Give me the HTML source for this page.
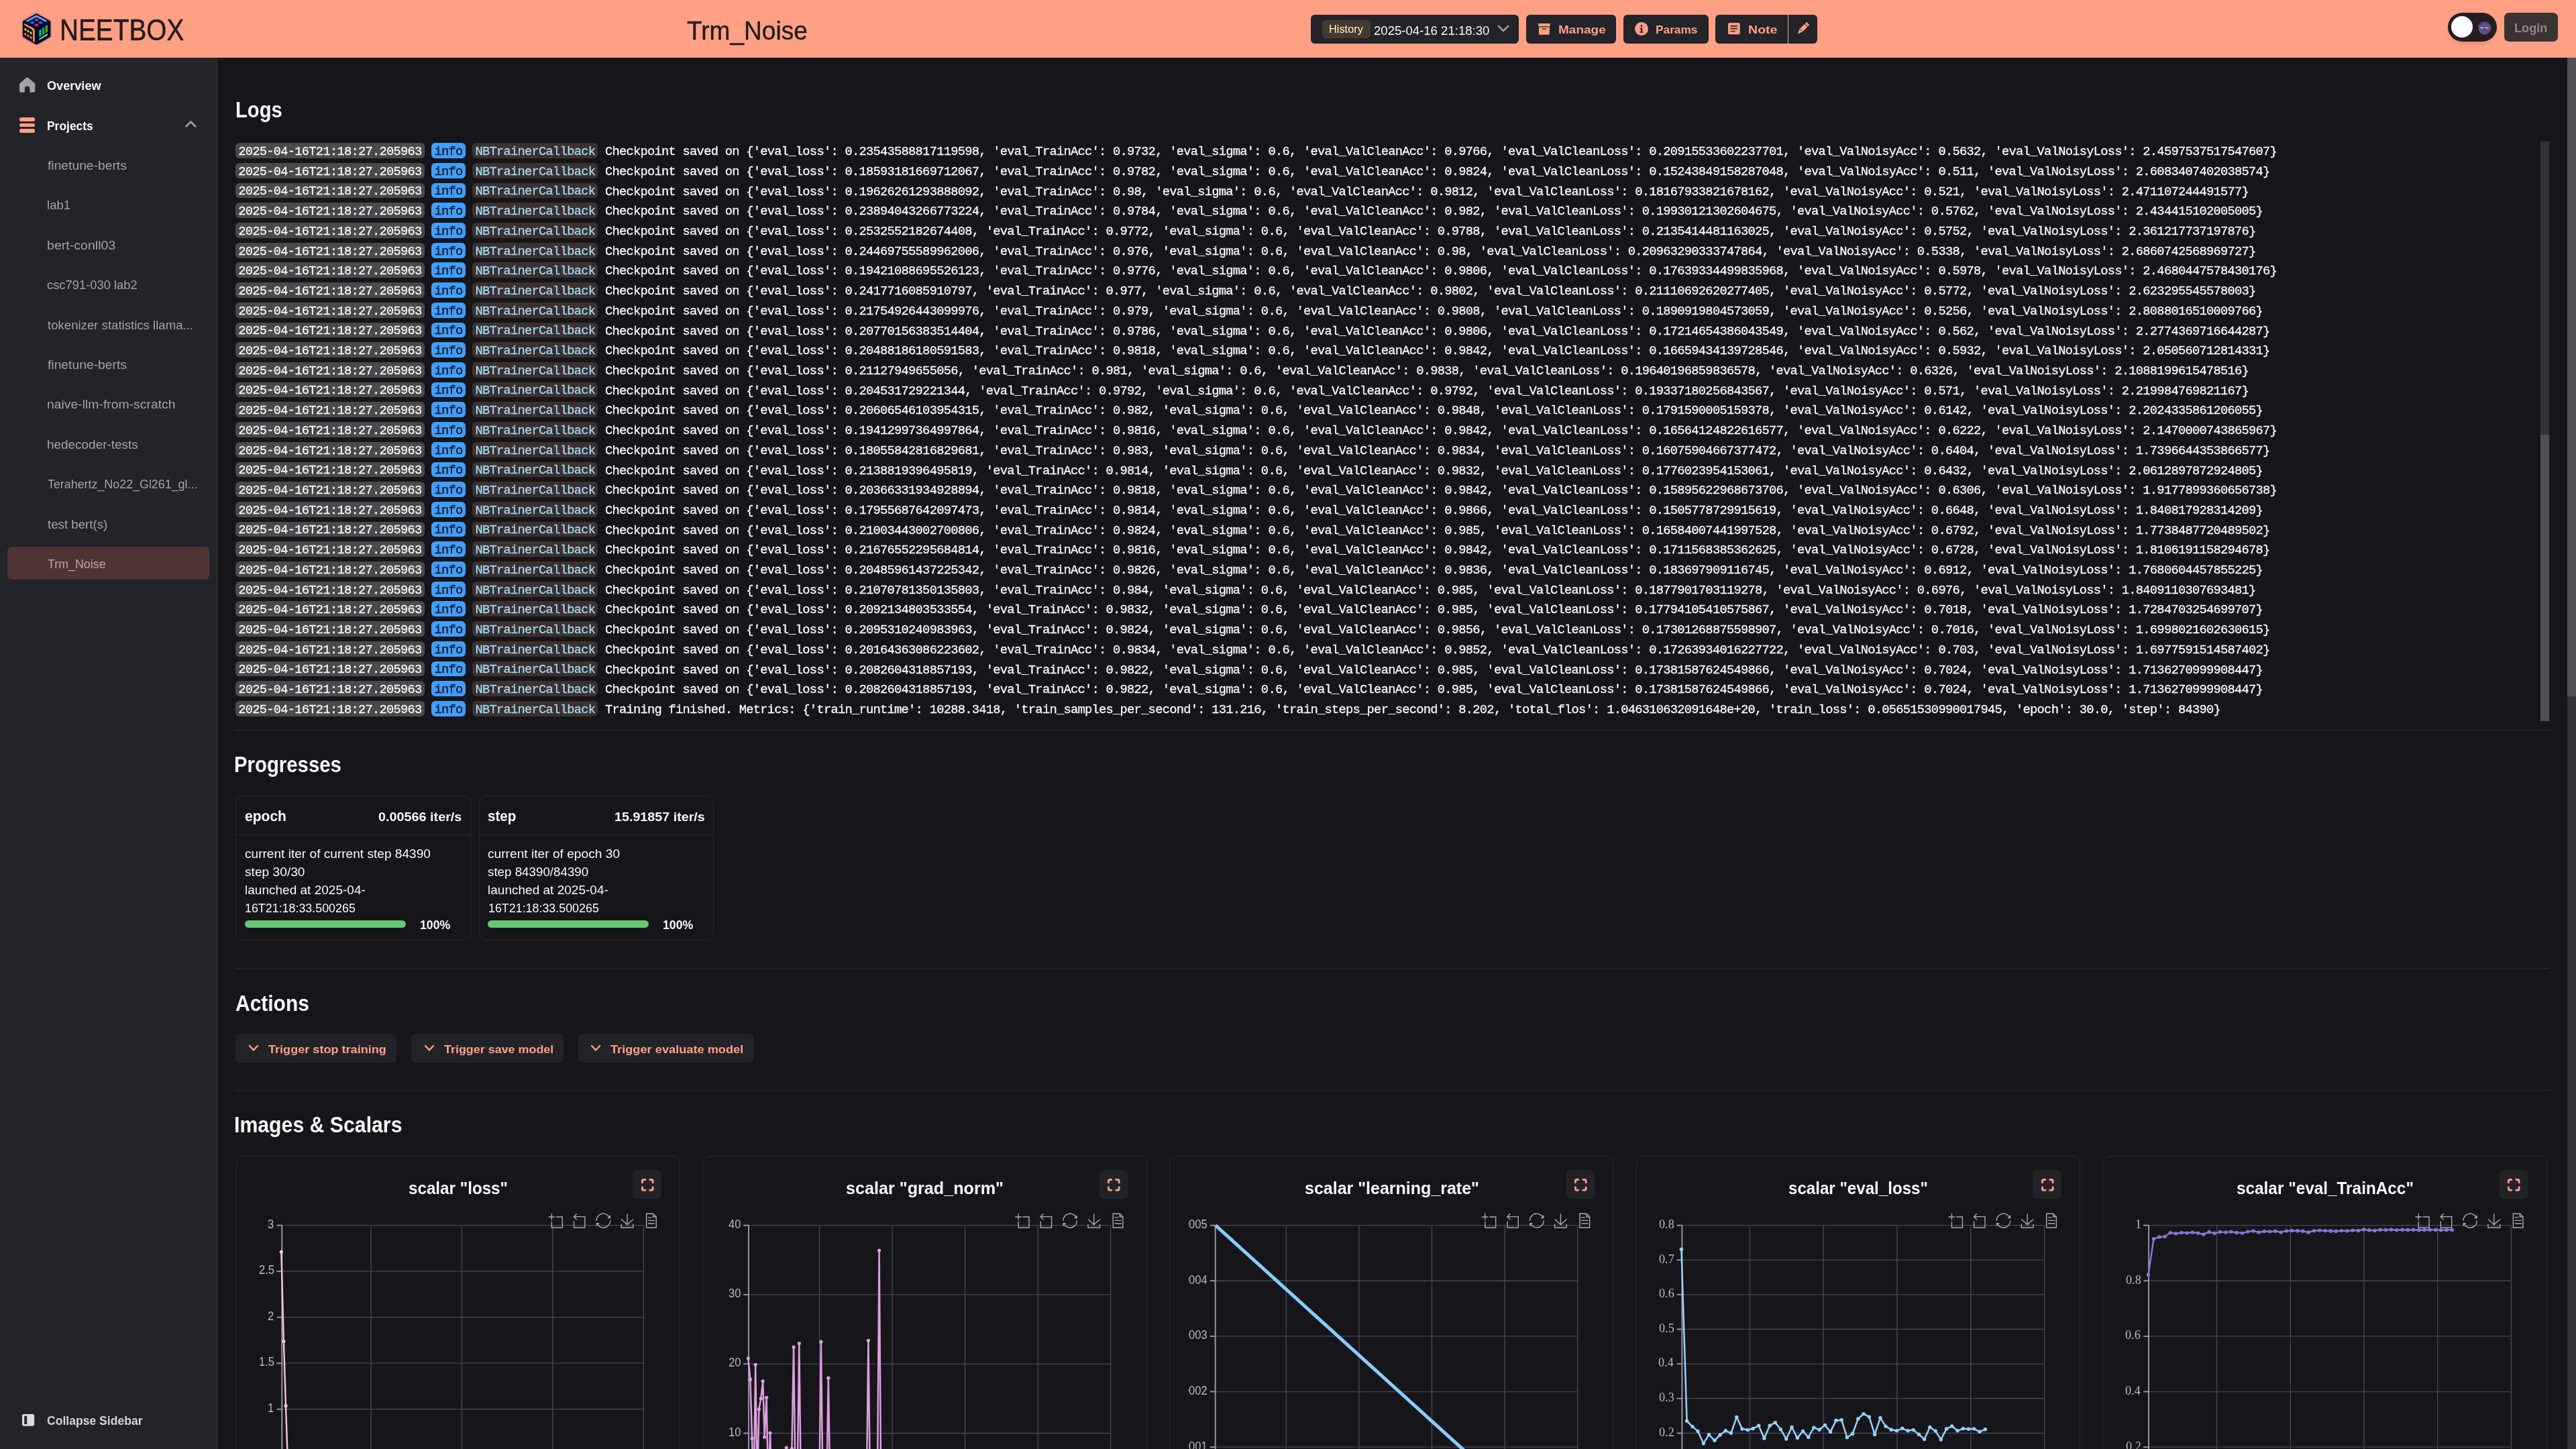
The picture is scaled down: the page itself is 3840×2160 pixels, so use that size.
<!DOCTYPE html>
<html><head><meta charset="utf-8"><title>NEETBOX</title>
<style>
html,body{margin:0;padding:0;background:#16161a;}
body{width:3840px;height:2160px;overflow:hidden;position:relative;font-family:"Liberation Sans",sans-serif;}
.a{position:absolute;}
.t{white-space:pre;transform-origin:0 50%;transform:scaleX(1.00001);}
svg{position:absolute;overflow:visible;}
.lg{position:absolute;left:351px;white-space:pre;font-family:"Liberation Mono",monospace;color:#f9f9f9;}
.lg span{border-radius:6px;}
</style></head><body>
<div class="a" style="left:0.00px;top:0.00px;width:3840.00px;height:86.00px;background:#ffa085;"></div>
<svg style="left:33.50px;top:19.70px;filter:drop-shadow(0 0 1.5px rgba(60,15,5,.75))" width="41.30" height="46.60" viewBox="0 0 41.3 46.6">
<polygon points="20.4,1.6 39.9,12.4 39.9,34.1 20.4,45.1 1.3,34.1 1.3,12.4" fill="#020a33" stroke="#020a33" stroke-width="2.6" stroke-linejoin="round"/>
<path d="M4.3,11 L20.4,2.2 L36.7,11 L33.9,12.7 L20.4,5.5 L7,12.7Z" fill="#58a4f2"/>
<polygon points="20.5,7.4 24.5,9.8 20.5,12.2 16.5,9.8" fill="#f5146c"/>
<polygon points="20.5,15.0 24.5,17.4 20.5,19.8 16.5,17.4" fill="#f5146c"/>
<polygon points="14.4,11.3 18.4,13.7 14.4,16.1 10.4,13.7" fill="#0a6ff5"/>
<polygon points="26.5,11.3 30.5,13.7 26.5,16.1 22.5,13.7" fill="#0a6ff5"/>
<path d="M1.6,15.6 L2.6,17.4 L13.3,23.7 Q15.1,24.8 15.1,27.2 L15.1,41.4 L17.8,43 L17.8,26.2 Q17.8,23.2 15.4,21.8 L2.6,14.9Z" fill="#ff9c3b"/>
<g fill="#ffc20e"><ellipse cx="3.9" cy="23.9" rx="1.5" ry="2.1" transform="rotate(-30 3.9 23.9)"/><ellipse cx="8" cy="26.5" rx="1.5" ry="2.1" transform="rotate(-30 8 26.5)"/><ellipse cx="12.1" cy="29.1" rx="1.5" ry="2.1" transform="rotate(-30 12.1 29.1)"/></g>
<g fill="#ff6a38"><ellipse cx="3.9" cy="30.9" rx="1.5" ry="2.1" transform="rotate(-30 3.9 30.9)"/><ellipse cx="8" cy="33.5" rx="1.5" ry="2.1" transform="rotate(-30 8 33.5)"/><ellipse cx="12.1" cy="36.1" rx="1.5" ry="2.1" transform="rotate(-30 12.1 36.1)"/></g>
<polygon points="24.4,25.2 27.4,23.5 27.4,33.4 24.4,35.1" fill="#10c97f"/>
<polygon points="29,22.2 32,20.4 32,30.4 29,32.2" fill="#2db34c"/>
<polygon points="33.6,19 37,17 37,27.6 33.6,29.6" fill="#4ab30a"/>
<polygon points="24.4,37.6 37,29.8 37,32.4 24.4,40.1" fill="#62d68b"/>
</svg>
<div class="a t" style="left:88.82px;top:20.00px;font-size:44.30px;line-height:49px;color:#231c1c;transform-origin:0 50%;transform:scaleX(0.8753);-webkit-text-stroke:0.55px #231c1c;">NEETBOX</div>
<div class="a t" style="left:1024.17px;top:24.00px;font-size:38.70px;line-height:43px;color:#231c1c;transform-origin:0 50%;transform:scaleX(0.9578);-webkit-text-stroke:0.4px #231c1c;">Trm_Noise</div>
<div class="a" style="left:1954.00px;top:22.00px;width:310.00px;height:43.00px;background:#232429;border-radius:6px;"></div>
<div class="a" style="left:1971.00px;top:30.00px;width:72.00px;height:27.00px;background:#453a2d;border-radius:5px;"></div>
<div class="a t" style="left:1981.06px;top:35.00px;font-size:15.90px;line-height:17px;color:#fdf3cf;transform-origin:0 50%;transform:scaleX(1.0283);">History</div>
<div class="a t" style="left:2047.77px;top:35.00px;font-size:18.40px;line-height:21px;color:#f9f9f9;transform-origin:0 50%;transform:scaleX(1.0093);">2025-04-16 21:18:30</div>
<svg style="left:2232.00px;top:37.00px;" width="18.00" height="12.00" viewBox="0 0 18 12"><path d="M2,2 L9,9 L16,2" fill="none" stroke="#9b9ca0" stroke-width="2.6" stroke-linecap="round" stroke-linejoin="round"/></svg>
<div class="a" style="left:2275.00px;top:22.00px;width:134.00px;height:43.00px;background:#232429;border-radius:6px;"></div>
<svg style="left:2292.60px;top:34.50px;" width="17.80" height="16.80" viewBox="0 0 17.8 16.8"><rect x="0" y="0" width="17.8" height="4.3" rx="0.9" fill="#ffa085"/><path d="M1,5.4 H16.8 V15.3 Q16.8,16.8 15.3,16.8 H2.5 Q1,16.8 1,15.3Z M6,7.6 V9 H11.8 V7.6Z" fill="#ffa085" fill-rule="evenodd"/></svg>
<div class="a t" style="left:2323.03px;top:35.00px;font-size:17.00px;line-height:19px;color:#ffa085;font-weight:700;transform-origin:0 50%;transform:scaleX(1.1189);">Manage</div>
<div class="a" style="left:2420.00px;top:22.00px;width:127.00px;height:43.00px;background:#232429;border-radius:6px;"></div>
<svg style="left:2436.60px;top:33.00px;" width="20.00" height="20.00" viewBox="0 0 20 20"><circle cx="10" cy="10" r="10" fill="#ffa085"/><circle cx="10" cy="5.4" r="1.5" fill="#232429"/><path d="M7.6,8.6 H11.3 V14.2 H12.8 V15.8 H7.4 V14.2 H8.9 V10.2 H7.6Z" fill="#232429"/></svg>
<div class="a t" style="left:2468.44px;top:35.00px;font-size:17.00px;line-height:19px;color:#ffa085;font-weight:700;transform-origin:0 50%;transform:scaleX(1.0168);">Params</div>
<div class="a" style="left:2557.2px;top:22px;width:107.6px;height:43px;background:#232429;border-radius:6px 0 0 6px"></div>
<div class="a" style="left:2666.1px;top:22px;width:42.7px;height:43px;background:#232429;border-radius:0 6px 6px 0"></div>
<svg style="left:2575.50px;top:33.90px;" width="17.70" height="17.30" viewBox="0 0 17.7 17.3"><rect width="17.7" height="17.3" rx="2.6" fill="#ffa085"/><g stroke="#232429" stroke-width="1.7" stroke-linecap="round"><path d="M4.2,4.9H13.4M4.2,8.7H13.4M4.2,12.5H9.8"/></g></svg>
<div class="a t" style="left:2605.69px;top:35.00px;font-size:17.00px;line-height:19px;color:#ffa085;font-weight:700;transform-origin:0 50%;transform:scaleX(1.1509);">Note</div>
<svg style="left:2678.40px;top:32.80px;" width="19.00" height="19.40" viewBox="0 0 24 24"><g transform="rotate(45 12 12)" fill="#ffa085"><rect x="8.2" y="-1.8" width="7.6" height="4.2" rx="1.2"/><rect x="8.2" y="3.6" width="7.6" height="12.4"/><path d="M8.2,17 H15.8 L12.6,24.6 Q12,25.6 11.4,24.6Z"/></g></svg>
<div class="a" style="left:3649px;top:19px;width:73px;height:43px;border-radius:22px;background:#231e1f;box-shadow:-1px 3px 5px rgba(120,50,30,.16)"></div>
<div class="a" style="left:3653.80px;top:23.90px;width:32.60px;height:32.60px;background:#ffffff;border-radius:17px;"></div>
<svg style="left:3693.80px;top:32.00px;" width="19.40" height="19.40" viewBox="0 0 20 20"><circle cx="10" cy="10" r="9.8" fill="#6a4e94"/>
<circle cx="9.5" cy="2.5" r="1.3" fill="#573c7e"/><circle cx="2.2" cy="11" r="1.6" fill="#573c7e"/><circle cx="6.1" cy="15.4" r="0.9" fill="#573c7e"/><circle cx="14.6" cy="16.4" r="1.6" fill="#573c7e"/>
<path d="M3.3,6.3 Q3.9,3.2 6.8,3.3" fill="none" stroke="#35244f" stroke-width="0.85"/><path d="M13.5,3.3 Q16.2,3.4 16.7,6" fill="none" stroke="#35244f" stroke-width="0.85"/>
<path d="M3.2,8.3 H8.9 Q8.2,10.9 6,10.9 Q3.9,10.9 3.2,8.3Z" fill="#cfcac6"/><path d="M10.6,8.3 H16.7 Q15.8,10.9 13.6,10.9 Q11.4,10.9 10.6,8.3Z" fill="#cfcac6"/>
<path d="M6.3,8.3 H8.3 Q8.2,9.4 7.3,9.4 Q6.4,9.4 6.3,8.3Z" fill="#2a1a44"/><path d="M13.6,8.3 H15.6 Q15.5,9.4 14.6,9.4 Q13.7,9.4 13.6,8.3Z" fill="#2a1a44"/>
<path d="M3,8.2 H9.1 M10.4,8.2 H16.9" stroke="#5a4084" stroke-width="0.5"/>
<path d="M6.8,12.7 Q9.7,15.6 12.7,12.7" fill="none" stroke="#3f2b61" stroke-width="0.85"/></svg>
<div class="a" style="left:3733.00px;top:19.00px;width:80.30px;height:43.00px;background:#3b3232;border-radius:7px;"></div>
<div class="a t" style="left:3748.28px;top:32.00px;font-size:17.80px;line-height:20px;color:#8f8a8a;font-weight:700;transform-origin:0 50%;transform:scaleX(1.0207);">Login</div>
<div class="a" style="left:0.00px;top:86.00px;width:323.50px;height:2074.00px;background:#232429;"></div>
<div class="a" style="left:323.40px;top:86.00px;width:1.10px;height:2074.00px;background:#35363b;"></div>
<svg style="left:28.80px;top:115.30px;" width="23.30" height="22.80" viewBox="0 0 23.3 22.8"><path d="M11.6,0.2 Q12.4,0.2 13.2,0.9 L22.5,8.9 Q23.3,9.7 23.3,10.8 V20.6 Q23.3,22.8 21.1,22.8 H16.3 Q15.4,22.8 15.4,21.9 V17.2 Q15.4,13.6 11.65,13.6 Q7.9,13.6 7.9,17.2 V21.9 Q7.9,22.8 7,22.8 H2.2 Q0,22.8 0,20.6 V10.8 Q0,9.7 0.8,8.9 L10,0.9 Q10.8,0.2 11.6,0.2Z" fill="#a2a2a4"/></svg>
<div class="a t" style="left:69.86px;top:117.00px;font-size:18.40px;line-height:21px;color:#f9f9f9;font-weight:700;transform-origin:0 50%;transform:scaleX(0.9850);">Overview</div>
<div class="a" style="left:29.00px;top:175.30px;width:22.90px;height:5.70px;background:#ffa085;border-radius:2.85px;"></div>
<div class="a" style="left:29.00px;top:183.80px;width:22.90px;height:5.70px;background:#ffa085;border-radius:2.85px;"></div>
<div class="a" style="left:29.00px;top:192.30px;width:22.90px;height:5.70px;background:#ffa085;border-radius:2.85px;"></div>
<div class="a t" style="left:69.83px;top:177.00px;font-size:18.40px;line-height:21px;color:#f9f9f9;font-weight:700;transform-origin:0 50%;transform:scaleX(0.9472);">Projects</div>
<svg style="left:275.20px;top:178.40px;" width="19.00" height="13.00" viewBox="0 0 19 13"><path d="M2.6,10.3 L9.4,3.5 L16.2,10.3" fill="none" stroke="#9d9ea2" stroke-width="2.7" stroke-linecap="round" stroke-linejoin="round"/></svg>
<div class="a" style="left:11.00px;top:815.00px;width:301.20px;height:49.10px;background:#4f3433;border-radius:6.5px;"></div>
<div class="a t" style="left:70.93px;top:236.00px;font-size:18.60px;line-height:21px;color:#a3a4a7;transform-origin:0 50%;transform:scaleX(1.0363);">finetune-berts</div>
<div class="a t" style="left:69.94px;top:295.00px;font-size:18.60px;line-height:21px;color:#a3a4a7;">lab1</div>
<div class="a t" style="left:69.94px;top:355.00px;font-size:18.60px;line-height:21px;color:#a3a4a7;transform-origin:0 50%;transform:scaleX(1.0528);">bert-conll03</div>
<div class="a t" style="left:70.42px;top:414.00px;font-size:18.60px;line-height:21px;color:#a3a4a7;transform-origin:0 50%;transform:scaleX(0.9868);">csc791-030 lab2</div>
<div class="a t" style="left:70.92px;top:474.00px;font-size:18.60px;line-height:21px;color:#a3a4a7;">tokenizer statistics llama...</div>
<div class="a t" style="left:70.93px;top:533.00px;font-size:18.60px;line-height:21px;color:#a3a4a7;transform-origin:0 50%;transform:scaleX(1.0372);">finetune-berts</div>
<div class="a t" style="left:69.91px;top:592.00px;font-size:18.60px;line-height:21px;color:#a3a4a7;transform-origin:0 50%;transform:scaleX(1.0412);">naive-llm-from-scratch</div>
<div class="a t" style="left:69.89px;top:652.00px;font-size:18.60px;line-height:21px;color:#a3a4a7;transform-origin:0 50%;transform:scaleX(1.0181);">hedecoder-tests</div>
<div class="a t" style="left:70.80px;top:711.00px;font-size:18.60px;line-height:21px;color:#a3a4a7;transform-origin:0 50%;transform:scaleX(0.9604);">Terahertz_No22_Gl261_gl...</div>
<div class="a t" style="left:70.92px;top:771.00px;font-size:18.60px;line-height:21px;color:#a3a4a7;transform-origin:0 50%;transform:scaleX(1.0051);">test bert(s)</div>
<div class="a t" style="left:70.80px;top:830.00px;font-size:18.60px;line-height:21px;color:#b4aaaa;transform-origin:0 50%;transform:scaleX(0.9594);">Trm_Noise</div>
<svg style="left:33.40px;top:2107.80px;" width="18.20" height="17.70" viewBox="0 0 18.2 17.7"><path d="M2.4,0 H15.8 Q18.2,0 18.2,2.4 V15.3 Q18.2,17.7 15.8,17.7 H2.4 Q0,17.7 0,15.3 V2.4 Q0,0 2.4,0Z M3.2,2.7 V15 H7.2 V2.7Z" fill="#dcdcdc" fill-rule="evenodd"/></svg>
<div class="a t" style="left:70.08px;top:2107.00px;font-size:18.40px;line-height:21px;color:#d6d6d7;font-weight:700;transform-origin:0 50%;transform:scaleX(0.9550);">Collapse Sidebar</div>
<div class="a" style="left:3827.00px;top:86.00px;width:13.00px;height:2074.00px;background:#323338;"></div>
<div class="a" style="left:3827.00px;top:86.00px;width:13.00px;height:952.00px;background:#4e5058;"></div>
<div class="a t" style="left:350.54px;top:145.00px;font-size:33.00px;line-height:37px;color:#f9f9f9;font-weight:700;transform-origin:0 50%;transform:scaleX(0.8862);">Logs</div>
<style>.lg{font-size:18.8px;letter-spacing:-0.755px;line-height:14px;-webkit-text-stroke:0.3px;transform:scaleX(1.00001);transform-origin:0 0;}.lg span{display:inline-block;box-sizing:border-box;height:22.8px;line-height:18.8px;padding:3.80px 4.2px 0 4.2px;border-radius:6px;}.p1{background:#4a4a4c}.p2{background:#409eff;color:#17171b}.p3{background:#3d302f;color:#9fd8f6}</style>
<div class="lg" style="top:213.20px"><span class="p1">2025-04-16T21:18:27.205963</span> <span class="p2">info</span> <span class="p3">NBTrainerCallback</span> Checkpoint saved on {&#x27;eval_loss&#x27;: 0.23543588817119598, &#x27;eval_TrainAcc&#x27;: 0.9732, &#x27;eval_sigma&#x27;: 0.6, &#x27;eval_ValCleanAcc&#x27;: 0.9766, &#x27;eval_ValCleanLoss&#x27;: 0.20915533602237701, &#x27;eval_ValNoisyAcc&#x27;: 0.5632, &#x27;eval_ValNoisyLoss&#x27;: 2.4597537517547607}</div>
<div class="lg" style="top:242.91px"><span class="p1">2025-04-16T21:18:27.205963</span> <span class="p2">info</span> <span class="p3">NBTrainerCallback</span> Checkpoint saved on {&#x27;eval_loss&#x27;: 0.18593181669712067, &#x27;eval_TrainAcc&#x27;: 0.9782, &#x27;eval_sigma&#x27;: 0.6, &#x27;eval_ValCleanAcc&#x27;: 0.9824, &#x27;eval_ValCleanLoss&#x27;: 0.15243849158287048, &#x27;eval_ValNoisyAcc&#x27;: 0.511, &#x27;eval_ValNoisyLoss&#x27;: 2.6083407402038574}</div>
<div class="lg" style="top:272.61px"><span class="p1">2025-04-16T21:18:27.205963</span> <span class="p2">info</span> <span class="p3">NBTrainerCallback</span> Checkpoint saved on {&#x27;eval_loss&#x27;: 0.19626261293888092, &#x27;eval_TrainAcc&#x27;: 0.98, &#x27;eval_sigma&#x27;: 0.6, &#x27;eval_ValCleanAcc&#x27;: 0.9812, &#x27;eval_ValCleanLoss&#x27;: 0.18167933821678162, &#x27;eval_ValNoisyAcc&#x27;: 0.521, &#x27;eval_ValNoisyLoss&#x27;: 2.471107244491577}</div>
<div class="lg" style="top:302.32px"><span class="p1">2025-04-16T21:18:27.205963</span> <span class="p2">info</span> <span class="p3">NBTrainerCallback</span> Checkpoint saved on {&#x27;eval_loss&#x27;: 0.23894043266773224, &#x27;eval_TrainAcc&#x27;: 0.9784, &#x27;eval_sigma&#x27;: 0.6, &#x27;eval_ValCleanAcc&#x27;: 0.982, &#x27;eval_ValCleanLoss&#x27;: 0.19930121302604675, &#x27;eval_ValNoisyAcc&#x27;: 0.5762, &#x27;eval_ValNoisyLoss&#x27;: 2.434415102005005}</div>
<div class="lg" style="top:332.03px"><span class="p1">2025-04-16T21:18:27.205963</span> <span class="p2">info</span> <span class="p3">NBTrainerCallback</span> Checkpoint saved on {&#x27;eval_loss&#x27;: 0.2532552182674408, &#x27;eval_TrainAcc&#x27;: 0.9772, &#x27;eval_sigma&#x27;: 0.6, &#x27;eval_ValCleanAcc&#x27;: 0.9788, &#x27;eval_ValCleanLoss&#x27;: 0.2135414481163025, &#x27;eval_ValNoisyAcc&#x27;: 0.5752, &#x27;eval_ValNoisyLoss&#x27;: 2.361217737197876}</div>
<div class="lg" style="top:361.74px"><span class="p1">2025-04-16T21:18:27.205963</span> <span class="p2">info</span> <span class="p3">NBTrainerCallback</span> Checkpoint saved on {&#x27;eval_loss&#x27;: 0.24469755589962006, &#x27;eval_TrainAcc&#x27;: 0.976, &#x27;eval_sigma&#x27;: 0.6, &#x27;eval_ValCleanAcc&#x27;: 0.98, &#x27;eval_ValCleanLoss&#x27;: 0.20963290333747864, &#x27;eval_ValNoisyAcc&#x27;: 0.5338, &#x27;eval_ValNoisyLoss&#x27;: 2.6860742568969727}</div>
<div class="lg" style="top:391.44px"><span class="p1">2025-04-16T21:18:27.205963</span> <span class="p2">info</span> <span class="p3">NBTrainerCallback</span> Checkpoint saved on {&#x27;eval_loss&#x27;: 0.19421088695526123, &#x27;eval_TrainAcc&#x27;: 0.9776, &#x27;eval_sigma&#x27;: 0.6, &#x27;eval_ValCleanAcc&#x27;: 0.9806, &#x27;eval_ValCleanLoss&#x27;: 0.17639334499835968, &#x27;eval_ValNoisyAcc&#x27;: 0.5978, &#x27;eval_ValNoisyLoss&#x27;: 2.4680447578430176}</div>
<div class="lg" style="top:421.15px"><span class="p1">2025-04-16T21:18:27.205963</span> <span class="p2">info</span> <span class="p3">NBTrainerCallback</span> Checkpoint saved on {&#x27;eval_loss&#x27;: 0.2417716085910797, &#x27;eval_TrainAcc&#x27;: 0.977, &#x27;eval_sigma&#x27;: 0.6, &#x27;eval_ValCleanAcc&#x27;: 0.9802, &#x27;eval_ValCleanLoss&#x27;: 0.21110692620277405, &#x27;eval_ValNoisyAcc&#x27;: 0.5772, &#x27;eval_ValNoisyLoss&#x27;: 2.623295545578003}</div>
<div class="lg" style="top:450.86px"><span class="p1">2025-04-16T21:18:27.205963</span> <span class="p2">info</span> <span class="p3">NBTrainerCallback</span> Checkpoint saved on {&#x27;eval_loss&#x27;: 0.21754926443099976, &#x27;eval_TrainAcc&#x27;: 0.979, &#x27;eval_sigma&#x27;: 0.6, &#x27;eval_ValCleanAcc&#x27;: 0.9808, &#x27;eval_ValCleanLoss&#x27;: 0.1890919804573059, &#x27;eval_ValNoisyAcc&#x27;: 0.5256, &#x27;eval_ValNoisyLoss&#x27;: 2.8088016510009766}</div>
<div class="lg" style="top:480.56px"><span class="p1">2025-04-16T21:18:27.205963</span> <span class="p2">info</span> <span class="p3">NBTrainerCallback</span> Checkpoint saved on {&#x27;eval_loss&#x27;: 0.20770156383514404, &#x27;eval_TrainAcc&#x27;: 0.9786, &#x27;eval_sigma&#x27;: 0.6, &#x27;eval_ValCleanAcc&#x27;: 0.9806, &#x27;eval_ValCleanLoss&#x27;: 0.17214654386043549, &#x27;eval_ValNoisyAcc&#x27;: 0.562, &#x27;eval_ValNoisyLoss&#x27;: 2.2774369716644287}</div>
<div class="lg" style="top:510.27px"><span class="p1">2025-04-16T21:18:27.205963</span> <span class="p2">info</span> <span class="p3">NBTrainerCallback</span> Checkpoint saved on {&#x27;eval_loss&#x27;: 0.20488186180591583, &#x27;eval_TrainAcc&#x27;: 0.9818, &#x27;eval_sigma&#x27;: 0.6, &#x27;eval_ValCleanAcc&#x27;: 0.9842, &#x27;eval_ValCleanLoss&#x27;: 0.16659434139728546, &#x27;eval_ValNoisyAcc&#x27;: 0.5932, &#x27;eval_ValNoisyLoss&#x27;: 2.050560712814331}</div>
<div class="lg" style="top:539.98px"><span class="p1">2025-04-16T21:18:27.205963</span> <span class="p2">info</span> <span class="p3">NBTrainerCallback</span> Checkpoint saved on {&#x27;eval_loss&#x27;: 0.21127949655056, &#x27;eval_TrainAcc&#x27;: 0.981, &#x27;eval_sigma&#x27;: 0.6, &#x27;eval_ValCleanAcc&#x27;: 0.9838, &#x27;eval_ValCleanLoss&#x27;: 0.19640196859836578, &#x27;eval_ValNoisyAcc&#x27;: 0.6326, &#x27;eval_ValNoisyLoss&#x27;: 2.1088199615478516}</div>
<div class="lg" style="top:569.68px"><span class="p1">2025-04-16T21:18:27.205963</span> <span class="p2">info</span> <span class="p3">NBTrainerCallback</span> Checkpoint saved on {&#x27;eval_loss&#x27;: 0.204531729221344, &#x27;eval_TrainAcc&#x27;: 0.9792, &#x27;eval_sigma&#x27;: 0.6, &#x27;eval_ValCleanAcc&#x27;: 0.9792, &#x27;eval_ValCleanLoss&#x27;: 0.19337180256843567, &#x27;eval_ValNoisyAcc&#x27;: 0.571, &#x27;eval_ValNoisyLoss&#x27;: 2.219984769821167}</div>
<div class="lg" style="top:599.39px"><span class="p1">2025-04-16T21:18:27.205963</span> <span class="p2">info</span> <span class="p3">NBTrainerCallback</span> Checkpoint saved on {&#x27;eval_loss&#x27;: 0.20606546103954315, &#x27;eval_TrainAcc&#x27;: 0.982, &#x27;eval_sigma&#x27;: 0.6, &#x27;eval_ValCleanAcc&#x27;: 0.9848, &#x27;eval_ValCleanLoss&#x27;: 0.1791590005159378, &#x27;eval_ValNoisyAcc&#x27;: 0.6142, &#x27;eval_ValNoisyLoss&#x27;: 2.2024335861206055}</div>
<div class="lg" style="top:629.10px"><span class="p1">2025-04-16T21:18:27.205963</span> <span class="p2">info</span> <span class="p3">NBTrainerCallback</span> Checkpoint saved on {&#x27;eval_loss&#x27;: 0.19412997364997864, &#x27;eval_TrainAcc&#x27;: 0.9816, &#x27;eval_sigma&#x27;: 0.6, &#x27;eval_ValCleanAcc&#x27;: 0.9842, &#x27;eval_ValCleanLoss&#x27;: 0.16564124822616577, &#x27;eval_ValNoisyAcc&#x27;: 0.6222, &#x27;eval_ValNoisyLoss&#x27;: 2.1470000743865967}</div>
<div class="lg" style="top:658.81px"><span class="p1">2025-04-16T21:18:27.205963</span> <span class="p2">info</span> <span class="p3">NBTrainerCallback</span> Checkpoint saved on {&#x27;eval_loss&#x27;: 0.18055842816829681, &#x27;eval_TrainAcc&#x27;: 0.983, &#x27;eval_sigma&#x27;: 0.6, &#x27;eval_ValCleanAcc&#x27;: 0.9834, &#x27;eval_ValCleanLoss&#x27;: 0.16075904667377472, &#x27;eval_ValNoisyAcc&#x27;: 0.6404, &#x27;eval_ValNoisyLoss&#x27;: 1.7396644353866577}</div>
<div class="lg" style="top:688.51px"><span class="p1">2025-04-16T21:18:27.205963</span> <span class="p2">info</span> <span class="p3">NBTrainerCallback</span> Checkpoint saved on {&#x27;eval_loss&#x27;: 0.2138819396495819, &#x27;eval_TrainAcc&#x27;: 0.9814, &#x27;eval_sigma&#x27;: 0.6, &#x27;eval_ValCleanAcc&#x27;: 0.9832, &#x27;eval_ValCleanLoss&#x27;: 0.1776023954153061, &#x27;eval_ValNoisyAcc&#x27;: 0.6432, &#x27;eval_ValNoisyLoss&#x27;: 2.0612897872924805}</div>
<div class="lg" style="top:718.22px"><span class="p1">2025-04-16T21:18:27.205963</span> <span class="p2">info</span> <span class="p3">NBTrainerCallback</span> Checkpoint saved on {&#x27;eval_loss&#x27;: 0.20366331934928894, &#x27;eval_TrainAcc&#x27;: 0.9818, &#x27;eval_sigma&#x27;: 0.6, &#x27;eval_ValCleanAcc&#x27;: 0.9842, &#x27;eval_ValCleanLoss&#x27;: 0.15895622968673706, &#x27;eval_ValNoisyAcc&#x27;: 0.6306, &#x27;eval_ValNoisyLoss&#x27;: 1.9177899360656738}</div>
<div class="lg" style="top:747.93px"><span class="p1">2025-04-16T21:18:27.205963</span> <span class="p2">info</span> <span class="p3">NBTrainerCallback</span> Checkpoint saved on {&#x27;eval_loss&#x27;: 0.17955687642097473, &#x27;eval_TrainAcc&#x27;: 0.9814, &#x27;eval_sigma&#x27;: 0.6, &#x27;eval_ValCleanAcc&#x27;: 0.9866, &#x27;eval_ValCleanLoss&#x27;: 0.1505778729915619, &#x27;eval_ValNoisyAcc&#x27;: 0.6648, &#x27;eval_ValNoisyLoss&#x27;: 1.840817928314209}</div>
<div class="lg" style="top:777.63px"><span class="p1">2025-04-16T21:18:27.205963</span> <span class="p2">info</span> <span class="p3">NBTrainerCallback</span> Checkpoint saved on {&#x27;eval_loss&#x27;: 0.21003443002700806, &#x27;eval_TrainAcc&#x27;: 0.9824, &#x27;eval_sigma&#x27;: 0.6, &#x27;eval_ValCleanAcc&#x27;: 0.985, &#x27;eval_ValCleanLoss&#x27;: 0.16584007441997528, &#x27;eval_ValNoisyAcc&#x27;: 0.6792, &#x27;eval_ValNoisyLoss&#x27;: 1.7738487720489502}</div>
<div class="lg" style="top:807.34px"><span class="p1">2025-04-16T21:18:27.205963</span> <span class="p2">info</span> <span class="p3">NBTrainerCallback</span> Checkpoint saved on {&#x27;eval_loss&#x27;: 0.21676552295684814, &#x27;eval_TrainAcc&#x27;: 0.9816, &#x27;eval_sigma&#x27;: 0.6, &#x27;eval_ValCleanAcc&#x27;: 0.9842, &#x27;eval_ValCleanLoss&#x27;: 0.1711568385362625, &#x27;eval_ValNoisyAcc&#x27;: 0.6728, &#x27;eval_ValNoisyLoss&#x27;: 1.8106191158294678}</div>
<div class="lg" style="top:837.05px"><span class="p1">2025-04-16T21:18:27.205963</span> <span class="p2">info</span> <span class="p3">NBTrainerCallback</span> Checkpoint saved on {&#x27;eval_loss&#x27;: 0.20485961437225342, &#x27;eval_TrainAcc&#x27;: 0.9826, &#x27;eval_sigma&#x27;: 0.6, &#x27;eval_ValCleanAcc&#x27;: 0.9836, &#x27;eval_ValCleanLoss&#x27;: 0.183697909116745, &#x27;eval_ValNoisyAcc&#x27;: 0.6912, &#x27;eval_ValNoisyLoss&#x27;: 1.7680604457855225}</div>
<div class="lg" style="top:866.75px"><span class="p1">2025-04-16T21:18:27.205963</span> <span class="p2">info</span> <span class="p3">NBTrainerCallback</span> Checkpoint saved on {&#x27;eval_loss&#x27;: 0.21070781350135803, &#x27;eval_TrainAcc&#x27;: 0.984, &#x27;eval_sigma&#x27;: 0.6, &#x27;eval_ValCleanAcc&#x27;: 0.985, &#x27;eval_ValCleanLoss&#x27;: 0.1877901703119278, &#x27;eval_ValNoisyAcc&#x27;: 0.6976, &#x27;eval_ValNoisyLoss&#x27;: 1.8409110307693481}</div>
<div class="lg" style="top:896.46px"><span class="p1">2025-04-16T21:18:27.205963</span> <span class="p2">info</span> <span class="p3">NBTrainerCallback</span> Checkpoint saved on {&#x27;eval_loss&#x27;: 0.2092134803533554, &#x27;eval_TrainAcc&#x27;: 0.9832, &#x27;eval_sigma&#x27;: 0.6, &#x27;eval_ValCleanAcc&#x27;: 0.985, &#x27;eval_ValCleanLoss&#x27;: 0.17794105410575867, &#x27;eval_ValNoisyAcc&#x27;: 0.7018, &#x27;eval_ValNoisyLoss&#x27;: 1.7284703254699707}</div>
<div class="lg" style="top:926.17px"><span class="p1">2025-04-16T21:18:27.205963</span> <span class="p2">info</span> <span class="p3">NBTrainerCallback</span> Checkpoint saved on {&#x27;eval_loss&#x27;: 0.2095310240983963, &#x27;eval_TrainAcc&#x27;: 0.9824, &#x27;eval_sigma&#x27;: 0.6, &#x27;eval_ValCleanAcc&#x27;: 0.9856, &#x27;eval_ValCleanLoss&#x27;: 0.17301268875598907, &#x27;eval_ValNoisyAcc&#x27;: 0.7016, &#x27;eval_ValNoisyLoss&#x27;: 1.6998021602630615}</div>
<div class="lg" style="top:955.88px"><span class="p1">2025-04-16T21:18:27.205963</span> <span class="p2">info</span> <span class="p3">NBTrainerCallback</span> Checkpoint saved on {&#x27;eval_loss&#x27;: 0.20164363086223602, &#x27;eval_TrainAcc&#x27;: 0.9834, &#x27;eval_sigma&#x27;: 0.6, &#x27;eval_ValCleanAcc&#x27;: 0.9852, &#x27;eval_ValCleanLoss&#x27;: 0.17263934016227722, &#x27;eval_ValNoisyAcc&#x27;: 0.703, &#x27;eval_ValNoisyLoss&#x27;: 1.6977591514587402}</div>
<div class="lg" style="top:985.58px"><span class="p1">2025-04-16T21:18:27.205963</span> <span class="p2">info</span> <span class="p3">NBTrainerCallback</span> Checkpoint saved on {&#x27;eval_loss&#x27;: 0.2082604318857193, &#x27;eval_TrainAcc&#x27;: 0.9822, &#x27;eval_sigma&#x27;: 0.6, &#x27;eval_ValCleanAcc&#x27;: 0.985, &#x27;eval_ValCleanLoss&#x27;: 0.17381587624549866, &#x27;eval_ValNoisyAcc&#x27;: 0.7024, &#x27;eval_ValNoisyLoss&#x27;: 1.7136270999908447}</div>
<div class="lg" style="top:1015.29px"><span class="p1">2025-04-16T21:18:27.205963</span> <span class="p2">info</span> <span class="p3">NBTrainerCallback</span> Checkpoint saved on {&#x27;eval_loss&#x27;: 0.2082604318857193, &#x27;eval_TrainAcc&#x27;: 0.9822, &#x27;eval_sigma&#x27;: 0.6, &#x27;eval_ValCleanAcc&#x27;: 0.985, &#x27;eval_ValCleanLoss&#x27;: 0.17381587624549866, &#x27;eval_ValNoisyAcc&#x27;: 0.7024, &#x27;eval_ValNoisyLoss&#x27;: 1.7136270999908447}</div>
<div class="lg" style="top:1045.00px"><span class="p1">2025-04-16T21:18:27.205963</span> <span class="p2">info</span> <span class="p3">NBTrainerCallback</span> Training finished. Metrics: {&#x27;train_runtime&#x27;: 10288.3418, &#x27;train_samples_per_second&#x27;: 131.216, &#x27;train_steps_per_second&#x27;: 8.202, &#x27;total_flos&#x27;: 1.046310632091648e+20, &#x27;train_loss&#x27;: 0.05651530990017945, &#x27;epoch&#x27;: 30.0, &#x27;step&#x27;: 84390}</div>
<div class="a" style="left:3787.00px;top:211.00px;width:13.00px;height:864.00px;background:#323338;"></div>
<div class="a" style="left:3787.00px;top:648.00px;width:13.00px;height:427.00px;background:#4e5058;"></div>
<div class="a" style="left:351.00px;top:1088.00px;width:3449.00px;height:1.20px;background:#2a2a2e;"></div>
<div class="a t" style="left:349.34px;top:1121.00px;font-size:33.00px;line-height:37px;color:#f9f9f9;font-weight:700;transform-origin:0 50%;transform:scaleX(0.8892);">Progresses</div>
<div class="a" style="left:351.20px;top:1186.40px;width:350.40px;height:215.40px;border-radius:10.5px;border:1.2px solid #2a2a2e;box-sizing:border-box;"></div>
<div class="a" style="left:351.20px;top:1244.00px;width:350.40px;height:1.20px;background:#2a2a2e;"></div>
<div class="a t" style="left:364.78px;top:1205.00px;font-size:21.50px;line-height:24px;color:#f9f9f9;font-weight:700;transform-origin:0 50%;transform:scaleX(0.9780);">epoch</div>
<div class="a t" style="left:564.02px;top:1207.00px;font-size:18.30px;line-height:21px;color:#f9f9f9;font-weight:700;transform-origin:0 50%;transform:scaleX(1.0828);">0.00566 iter/s</div>
<div class="a t" style="left:364.79px;top:1262.00px;font-size:18.40px;line-height:21px;color:#f9f9f9;transform-origin:0 50%;transform:scaleX(1.0378);">current iter of current step 84390</div>
<div class="a t" style="left:365.07px;top:1289.00px;font-size:18.40px;line-height:21px;color:#f9f9f9;transform-origin:0 50%;transform:scaleX(1.0424);">step 30/30</div>
<div class="a t" style="left:364.52px;top:1316.00px;font-size:18.40px;line-height:21px;color:#f9f9f9;transform-origin:0 50%;transform:scaleX(1.0346);">launched at 2025-04-</div>
<div class="a t" style="left:365.34px;top:1343.00px;font-size:18.40px;line-height:21px;color:#f9f9f9;transform-origin:0 50%;transform:scaleX(0.9709);">16T21:18:33.500265</div>
<div class="a" style="left:365.00px;top:1372.00px;width:240.20px;height:11.00px;background:#65c774;border-radius:5.5px;"></div>
<div class="a t" style="left:625.68px;top:1369.00px;font-size:17.60px;line-height:20px;color:#f9f9f9;font-weight:700;transform-origin:0 50%;transform:scaleX(1.0059);">100%</div>
<div class="a" style="left:713.50px;top:1186.40px;width:350.40px;height:215.40px;border-radius:10.5px;border:1.2px solid #2a2a2e;box-sizing:border-box;"></div>
<div class="a" style="left:713.50px;top:1244.00px;width:350.40px;height:1.20px;background:#2a2a2e;"></div>
<div class="a t" style="left:727.18px;top:1205.00px;font-size:21.50px;line-height:24px;color:#f9f9f9;font-weight:700;transform-origin:0 50%;transform:scaleX(0.9584);">step</div>
<div class="a t" style="left:915.86px;top:1207.00px;font-size:18.30px;line-height:21px;color:#f9f9f9;font-weight:700;transform-origin:0 50%;transform:scaleX(1.0783);">15.91857 iter/s</div>
<div class="a t" style="left:727.09px;top:1262.00px;font-size:18.40px;line-height:21px;color:#f9f9f9;transform-origin:0 50%;transform:scaleX(1.0419);">current iter of epoch 30</div>
<div class="a t" style="left:727.38px;top:1289.00px;font-size:18.40px;line-height:21px;color:#f9f9f9;transform-origin:0 50%;transform:scaleX(1.0198);">step 84390/84390</div>
<div class="a t" style="left:726.82px;top:1316.00px;font-size:18.40px;line-height:21px;color:#f9f9f9;transform-origin:0 50%;transform:scaleX(1.0346);">launched at 2025-04-</div>
<div class="a t" style="left:727.64px;top:1343.00px;font-size:18.40px;line-height:21px;color:#f9f9f9;transform-origin:0 50%;transform:scaleX(0.9709);">16T21:18:33.500265</div>
<div class="a" style="left:727.30px;top:1372.00px;width:240.20px;height:11.00px;background:#65c774;border-radius:5.5px;"></div>
<div class="a t" style="left:987.98px;top:1369.00px;font-size:17.60px;line-height:20px;color:#f9f9f9;font-weight:700;transform-origin:0 50%;transform:scaleX(1.0059);">100%</div>
<div class="a" style="left:351.00px;top:1443.00px;width:3449.00px;height:1.20px;background:#2a2a2e;"></div>
<div class="a t" style="left:350.65px;top:1477.00px;font-size:33.00px;line-height:37px;color:#f9f9f9;font-weight:700;transform-origin:0 50%;transform:scaleX(0.9079);">Actions</div>
<div class="a" style="left:351.40px;top:1540.80px;width:239.50px;height:43.30px;background:#222328;border-radius:7px;"></div>
<svg style="left:370.00px;top:1557.20px;" width="16.00" height="11.00" viewBox="0 0 16 11"><path d="M2,2 L8,8.3 L14,2" fill="none" stroke="#ffa085" stroke-width="2.5" stroke-linecap="round" stroke-linejoin="round"/></svg>
<div class="a t" style="left:399.80px;top:1554.00px;font-size:17.30px;line-height:20px;color:#ffa085;font-weight:700;transform-origin:0 50%;transform:scaleX(1.0464);">Trigger stop training</div>
<div class="a" style="left:613.40px;top:1540.80px;width:226.30px;height:43.30px;background:#222328;border-radius:7px;"></div>
<svg style="left:632.00px;top:1557.20px;" width="16.00" height="11.00" viewBox="0 0 16 11"><path d="M2,2 L8,8.3 L14,2" fill="none" stroke="#ffa085" stroke-width="2.5" stroke-linecap="round" stroke-linejoin="round"/></svg>
<div class="a t" style="left:661.80px;top:1554.00px;font-size:17.30px;line-height:20px;color:#ffa085;font-weight:700;transform-origin:0 50%;transform:scaleX(1.0367);">Trigger save model</div>
<div class="a" style="left:861.80px;top:1540.80px;width:262.10px;height:43.30px;background:#222328;border-radius:7px;"></div>
<svg style="left:880.40px;top:1557.20px;" width="16.00" height="11.00" viewBox="0 0 16 11"><path d="M2,2 L8,8.3 L14,2" fill="none" stroke="#ffa085" stroke-width="2.5" stroke-linecap="round" stroke-linejoin="round"/></svg>
<div class="a t" style="left:910.30px;top:1554.00px;font-size:17.30px;line-height:20px;color:#ffa085;font-weight:700;transform-origin:0 50%;transform:scaleX(1.0533);">Trigger evaluate model</div>
<div class="a" style="left:351.00px;top:1625.00px;width:3449.00px;height:1.20px;background:#2a2a2e;"></div>
<div class="a t" style="left:349.38px;top:1658.00px;font-size:33.00px;line-height:37px;color:#f9f9f9;font-weight:700;transform-origin:0 50%;transform:scaleX(0.9163);">Images &amp; Scalars</div>
<div class="a" style="left:351.50px;top:1723.00px;width:662.50px;height:520.00px;border-radius:10px;border:1.2px solid #2a2a2e;box-sizing:border-box;"></div>
<div class="a t" style="left:609.10px;top:1757.00px;font-size:25.00px;line-height:28px;color:#f9f9f9;font-weight:700;transform-origin:0 50%;transform:scaleX(0.9678);">scalar &quot;loss&quot;</div>
<div class="a" style="left:943.10px;top:1744.00px;width:42.90px;height:43.00px;background:#222328;border-radius:7px;"></div>
<svg style="left:955.60px;top:1756.50px;" width="18.60" height="18.60" viewBox="0 0 18.6 18.6"><path d="M1.45,5.75 V3.6 Q1.45,1.45 3.6,1.45 H5.75 M12.85,1.45 H15 Q17.15,1.45 17.15,3.6 V5.75 M17.15,12.85 V15 Q17.15,17.15 15,17.15 H12.85 M5.75,17.15 H3.6 Q1.45,17.15 1.45,15 V12.85" fill="none" stroke="#ffa085" stroke-width="2.9" stroke-linecap="round"/></svg>
<svg style="left:0;top:0" width="3840" height="2160" viewBox="0 0 3840 2160"><path d="M420.30,1826.60H959.50" stroke="#484753" stroke-width="1.3"/><path d="M420.30,1895.13H959.50" stroke="#484753" stroke-width="1.3"/><path d="M420.30,1963.66H959.50" stroke="#484753" stroke-width="1.3"/><path d="M420.30,2032.19H959.50" stroke="#484753" stroke-width="1.3"/><path d="M420.30,2100.72H959.50" stroke="#484753" stroke-width="1.3"/><path d="M552.90,1826.60V2200" stroke="#484753" stroke-width="1.3"/><path d="M688.40,1826.60V2200" stroke="#484753" stroke-width="1.3"/><path d="M823.90,1826.60V2200" stroke="#484753" stroke-width="1.3"/><path d="M959.40,1826.60V2200" stroke="#484753" stroke-width="1.3"/><path d="M420.30,1826.00V2200" stroke="#9a99ae" stroke-width="1.9"/><path d="M412.50,1826.60H420.30" stroke="#9a99ae" stroke-width="1.9"/><path d="M412.50,1895.13H420.30" stroke="#9a99ae" stroke-width="1.9"/><path d="M412.50,1963.66H420.30" stroke="#9a99ae" stroke-width="1.9"/><path d="M412.50,2032.19H420.30" stroke="#9a99ae" stroke-width="1.9"/><path d="M412.50,2100.72H420.30" stroke="#9a99ae" stroke-width="1.9"/><path d="M419.3,1866.1 L422.9,1999.5 L426.0,2095.7 L429.3,2190.0" fill="none" stroke="#f6c6cc" stroke-width="2.4" stroke-linejoin="bevel"/><circle cx="419.3" cy="1866.1" r="2.6" fill="#f6c6cc"/><circle cx="422.9" cy="1999.5" r="2.6" fill="#f6c6cc"/><circle cx="426.0" cy="2095.7" r="2.6" fill="#f6c6cc"/><path d="M0,13.5h26.9 M13.5,26.9V0 M32.1,13.5H58V58H13.5 V32.1" transform="translate(817.50,1809.20) scale(0.3586)" fill="none" stroke="#a9a8bb" stroke-width="3.90"/><path d="M22,1.4L9.9,13.5l12.3,12.3 M10.3,13.5H54.9v44.6 H10.3v-26" transform="translate(851.76,1808.69) scale(0.3668)" fill="none" stroke="#a9a8bb" stroke-width="3.82"/><path d="M47,18.9h9.8V8.7 M56.3,20.1 C52.1,9,40.5,0.6,26.8,2.1C12.6,3.7,1.6,16.2,2.1,30.6 M13,41.1H3.1v10.2 M3.7,39.9c4.2,11.1,15.8,19.5,29.5,18 c14.2-1.6,25.2-14.1,24.7-28.5" transform="translate(888.28,1808.46) scale(0.3708)" fill="none" stroke="#a9a8bb" stroke-width="3.78"/><path d="M4.7,22.9L29.3,45.5L54.7,23.4M4.6,43.6L4.6,58L53.8,58L53.8,43.6M29.2,45.1L29.2,0" transform="translate(924.52,1809.20) scale(0.3586)" fill="none" stroke="#a9a8bb" stroke-width="3.90"/><path d="M17.5,17.3H33 M17.5,17.3H33 M45.4,29.5h-28 M11.5,2v56H51V14.8L38.4,2H11.5z M38.4,2.2v12.7H51 M45.4,41.7h-28" transform="translate(959.29,1808.46) scale(0.3714)" fill="none" stroke="#a9a8bb" stroke-width="3.77"/></svg>
<div class="a t" style="left:399.33px;top:1815.00px;font-size:17.60px;line-height:20px;color:#b9b8ce;transform-origin:0 50%;transform:scaleX(0.9400);">3</div>
<div class="a t" style="left:385.50px;top:1883.00px;font-size:17.60px;line-height:20px;color:#b9b8ce;transform-origin:0 50%;transform:scaleX(0.9400);">2.5</div>
<div class="a t" style="left:399.43px;top:1952.00px;font-size:17.60px;line-height:20px;color:#b9b8ce;transform-origin:0 50%;transform:scaleX(0.9400);">2</div>
<div class="a t" style="left:385.50px;top:2020.00px;font-size:17.60px;line-height:20px;color:#b9b8ce;transform-origin:0 50%;transform:scaleX(0.9400);">1.5</div>
<div class="a t" style="left:399.41px;top:2089.00px;font-size:17.60px;line-height:20px;color:#b9b8ce;transform-origin:0 50%;transform:scaleX(0.9400);">1</div>
<div class="a" style="left:1047.20px;top:1723.00px;width:662.50px;height:520.00px;border-radius:10px;border:1.2px solid #2a2a2e;box-sizing:border-box;"></div>
<div class="a t" style="left:1261.32px;top:1757.00px;font-size:25.00px;line-height:28px;color:#f9f9f9;font-weight:700;transform-origin:0 50%;transform:scaleX(1.0065);">scalar &quot;grad_norm&quot;</div>
<div class="a" style="left:1638.80px;top:1744.00px;width:42.90px;height:43.00px;background:#222328;border-radius:7px;"></div>
<svg style="left:1651.30px;top:1756.50px;" width="18.60" height="18.60" viewBox="0 0 18.6 18.6"><path d="M1.45,5.75 V3.6 Q1.45,1.45 3.6,1.45 H5.75 M12.85,1.45 H15 Q17.15,1.45 17.15,3.6 V5.75 M17.15,12.85 V15 Q17.15,17.15 15,17.15 H12.85 M5.75,17.15 H3.6 Q1.45,17.15 1.45,15 V12.85" fill="none" stroke="#ffa085" stroke-width="2.9" stroke-linecap="round"/></svg>
<svg style="left:0;top:0" width="3840" height="2160" viewBox="0 0 3840 2160"><path d="M1116.00,1826.60H1655.20" stroke="#484753" stroke-width="1.3"/><path d="M1116.00,1929.90H1655.20" stroke="#484753" stroke-width="1.3"/><path d="M1116.00,2033.20H1655.20" stroke="#484753" stroke-width="1.3"/><path d="M1116.00,2136.50H1655.20" stroke="#484753" stroke-width="1.3"/><path d="M1221.60,1826.60V2200" stroke="#484753" stroke-width="1.3"/><path d="M1330.10,1826.60V2200" stroke="#484753" stroke-width="1.3"/><path d="M1438.60,1826.60V2200" stroke="#484753" stroke-width="1.3"/><path d="M1547.10,1826.60V2200" stroke="#484753" stroke-width="1.3"/><path d="M1655.60,1826.60V2200" stroke="#484753" stroke-width="1.3"/><path d="M1116.00,1826.00V2200" stroke="#9a99ae" stroke-width="1.9"/><path d="M1108.20,1826.60H1116.00" stroke="#9a99ae" stroke-width="1.9"/><path d="M1108.20,1929.90H1116.00" stroke="#9a99ae" stroke-width="1.9"/><path d="M1108.20,2033.20H1116.00" stroke="#9a99ae" stroke-width="1.9"/><path d="M1108.20,2136.50H1116.00" stroke="#9a99ae" stroke-width="1.9"/><path d="M1115.3,2024.8 L1118.4,2056.2 L1121.0,2144.2 L1123.6,2222.0 L1126.2,2034.3 L1128.8,2222.0 L1131.4,2100.6 L1134.3,2084.8 L1137.2,2058.8 L1139.7,2142.3 L1142.6,2083.3 L1145.3,2222.0 L1148.0,2136.0 L1150.7,2222.0 L1153.4,2226.0 L1156.1,2219.0 L1158.8,2224.0 L1161.5,2217.0 L1164.2,2222.0 L1166.9,2214.0 L1169.6,2202.0 L1172.3,2158.0 L1175.0,2210.0 L1177.7,2163.0 L1180.4,2159.4 L1183.1,2008.2 L1185.8,2222.0 L1188.5,2216.0 L1191.3,2002.5 L1194.0,2222.0 L1196.7,2220.5 L1199.4,2218.1 L1202.2,2225.1 L1204.9,2217.0 L1207.6,2223.5 L1210.4,2221.1 L1213.1,2216.8 L1215.8,2223.1 L1218.5,2216.5 L1221.2,2222.0 L1223.9,2000.2 L1226.6,2222.0 L1229.3,2222.1 L1232.1,2222.0 L1234.8,2054.2 L1237.5,2222.0 L1240.2,2217.0 L1242.9,2217.3 L1245.7,2221.9 L1248.4,2227.6 L1251.1,2217.7 L1253.9,2219.1 L1256.6,2224.8 L1259.3,2229.3 L1262.0,2224.1 L1264.8,2221.6 L1267.5,2229.7 L1270.2,2216.7 L1273.0,2228.0 L1275.7,2220.1 L1278.4,2218.0 L1281.2,2217.6 L1283.9,2220.3 L1286.6,2227.4 L1289.3,2218.5 L1291.7,2222.0 L1294.4,1998.3 L1297.1,2222.0 L1299.8,2224.1 L1302.5,2224.9 L1305.3,2221.2 L1307.9,2222.0 L1310.6,1864.1 L1313.3,2222.0 L1316.0,2223.7 L1318.7,2216.9 L1321.5,2216.8 L1324.2,2218.9 L1326.9,2225.5 L1329.7,2222.0 L1332.4,2220.4 L1335.1,2224.2 L1337.8,2222.3 L1340.6,2220.2 L1343.3,2227.1 L1346.0,2225.8 L1348.8,2219.4 L1351.5,2224.0 L1354.2,2223.4 L1357.0,2228.3 L1359.7,2226.2 L1362.4,2220.0 L1365.1,2229.7 L1367.9,2217.7 L1370.6,2221.9 L1373.3,2226.6 L1376.1,2218.1 L1378.8,2222.8 L1381.5,2216.5 L1384.3,2225.4 L1387.0,2226.7 L1389.7,2224.0 L1392.4,2228.3 L1395.2,2220.4 L1397.9,2225.7 L1400.6,2224.3 L1403.4,2224.1 L1406.1,2222.4 L1408.8,2227.8 L1411.6,2229.2 L1414.3,2222.6 L1417.0,2225.3 L1419.7,2216.8 L1422.5,2225.8 L1425.2,2225.1 L1427.9,2229.9 L1430.7,2227.5 L1433.4,2220.0 L1436.1,2221.4 L1438.9,2225.4 L1441.6,2216.3 L1444.3,2222.5 L1447.0,2218.4 L1449.8,2217.6 L1452.5,2216.8 L1455.2,2226.8 L1458.0,2217.8 L1460.7,2219.5 L1463.4,2221.5 L1466.2,2228.2 L1468.9,2217.1 L1471.6,2222.3 L1474.3,2223.7 L1477.1,2228.4" fill="none" stroke="#dda0dd" stroke-width="2.5" stroke-linejoin="bevel"/><circle cx="1115.3" cy="2024.8" r="2.6" fill="#dda0dd"/><circle cx="1118.4" cy="2056.2" r="2.6" fill="#dda0dd"/><circle cx="1121.0" cy="2144.2" r="2.6" fill="#dda0dd"/><circle cx="1126.2" cy="2034.3" r="2.6" fill="#dda0dd"/><circle cx="1131.4" cy="2100.6" r="2.6" fill="#dda0dd"/><circle cx="1134.3" cy="2084.8" r="2.6" fill="#dda0dd"/><circle cx="1137.2" cy="2058.8" r="2.6" fill="#dda0dd"/><circle cx="1139.7" cy="2142.3" r="2.6" fill="#dda0dd"/><circle cx="1142.6" cy="2083.3" r="2.6" fill="#dda0dd"/><circle cx="1148.0" cy="2136.0" r="2.6" fill="#dda0dd"/><circle cx="1172.3" cy="2158.0" r="2.6" fill="#dda0dd"/><circle cx="1177.7" cy="2163.0" r="2.6" fill="#dda0dd"/><circle cx="1180.4" cy="2159.4" r="2.6" fill="#dda0dd"/><circle cx="1183.1" cy="2008.2" r="2.6" fill="#dda0dd"/><circle cx="1191.3" cy="2002.5" r="2.6" fill="#dda0dd"/><circle cx="1223.9" cy="2000.2" r="2.6" fill="#dda0dd"/><circle cx="1234.8" cy="2054.2" r="2.6" fill="#dda0dd"/><circle cx="1294.4" cy="1998.3" r="2.6" fill="#dda0dd"/><circle cx="1310.6" cy="1864.1" r="2.6" fill="#dda0dd"/><path d="M0,13.5h26.9 M13.5,26.9V0 M32.1,13.5H58V58H13.5 V32.1" transform="translate(1513.20,1809.20) scale(0.3586)" fill="none" stroke="#a9a8bb" stroke-width="3.90"/><path d="M22,1.4L9.9,13.5l12.3,12.3 M10.3,13.5H54.9v44.6 H10.3v-26" transform="translate(1547.46,1808.69) scale(0.3668)" fill="none" stroke="#a9a8bb" stroke-width="3.82"/><path d="M47,18.9h9.8V8.7 M56.3,20.1 C52.1,9,40.5,0.6,26.8,2.1C12.6,3.7,1.6,16.2,2.1,30.6 M13,41.1H3.1v10.2 M3.7,39.9c4.2,11.1,15.8,19.5,29.5,18 c14.2-1.6,25.2-14.1,24.7-28.5" transform="translate(1583.98,1808.46) scale(0.3708)" fill="none" stroke="#a9a8bb" stroke-width="3.78"/><path d="M4.7,22.9L29.3,45.5L54.7,23.4M4.6,43.6L4.6,58L53.8,58L53.8,43.6M29.2,45.1L29.2,0" transform="translate(1620.22,1809.20) scale(0.3586)" fill="none" stroke="#a9a8bb" stroke-width="3.90"/><path d="M17.5,17.3H33 M17.5,17.3H33 M45.4,29.5h-28 M11.5,2v56H51V14.8L38.4,2H11.5z M38.4,2.2v12.7H51 M45.4,41.7h-28" transform="translate(1654.99,1808.46) scale(0.3714)" fill="none" stroke="#a9a8bb" stroke-width="3.77"/></svg>
<div class="a t" style="left:1085.74px;top:1815.00px;font-size:17.60px;line-height:20px;color:#b9b8ce;transform-origin:0 50%;transform:scaleX(0.9400);">40</div>
<div class="a t" style="left:1085.74px;top:1918.00px;font-size:17.60px;line-height:20px;color:#b9b8ce;transform-origin:0 50%;transform:scaleX(0.9400);">30</div>
<div class="a t" style="left:1085.74px;top:2021.00px;font-size:17.60px;line-height:20px;color:#b9b8ce;transform-origin:0 50%;transform:scaleX(0.9400);">20</div>
<div class="a t" style="left:1085.74px;top:2125.00px;font-size:17.60px;line-height:20px;color:#b9b8ce;transform-origin:0 50%;transform:scaleX(0.9400);">10</div>
<div class="a" style="left:1742.90px;top:1723.00px;width:662.50px;height:520.00px;border-radius:10px;border:1.2px solid #2a2a2e;box-sizing:border-box;"></div>
<div class="a t" style="left:1944.52px;top:1757.00px;font-size:25.00px;line-height:28px;color:#f9f9f9;font-weight:700;">scalar &quot;learning_rate&quot;</div>
<div class="a" style="left:2334.50px;top:1744.00px;width:42.90px;height:43.00px;background:#222328;border-radius:7px;"></div>
<svg style="left:2347.00px;top:1756.50px;" width="18.60" height="18.60" viewBox="0 0 18.6 18.6"><path d="M1.45,5.75 V3.6 Q1.45,1.45 3.6,1.45 H5.75 M12.85,1.45 H15 Q17.15,1.45 17.15,3.6 V5.75 M17.15,12.85 V15 Q17.15,17.15 15,17.15 H12.85 M5.75,17.15 H3.6 Q1.45,17.15 1.45,15 V12.85" fill="none" stroke="#ffa085" stroke-width="2.9" stroke-linecap="round"/></svg>
<svg style="left:0;top:0" width="3840" height="2160" viewBox="0 0 3840 2160"><path d="M1811.70,1826.60H2350.90" stroke="#484753" stroke-width="1.3"/><path d="M1811.70,1909.25H2350.90" stroke="#484753" stroke-width="1.3"/><path d="M1811.70,1991.90H2350.90" stroke="#484753" stroke-width="1.3"/><path d="M1811.70,2074.55H2350.90" stroke="#484753" stroke-width="1.3"/><path d="M1811.70,2157.20H2350.90" stroke="#484753" stroke-width="1.3"/><path d="M1917.30,1826.60V2200" stroke="#484753" stroke-width="1.3"/><path d="M2025.90,1826.60V2200" stroke="#484753" stroke-width="1.3"/><path d="M2134.50,1826.60V2200" stroke="#484753" stroke-width="1.3"/><path d="M2243.10,1826.60V2200" stroke="#484753" stroke-width="1.3"/><path d="M2351.70,1826.60V2200" stroke="#484753" stroke-width="1.3"/><path d="M1811.70,1826.00V2200" stroke="#9a99ae" stroke-width="1.9"/><path d="M1803.90,1826.60H1811.70" stroke="#9a99ae" stroke-width="1.9"/><path d="M1803.90,1909.25H1811.70" stroke="#9a99ae" stroke-width="1.9"/><path d="M1803.90,1991.90H1811.70" stroke="#9a99ae" stroke-width="1.9"/><path d="M1803.90,2074.55H1811.70" stroke="#9a99ae" stroke-width="1.9"/><path d="M1803.90,2157.20H1811.70" stroke="#9a99ae" stroke-width="1.9"/><path d="M1812.0,1826.6 L2200.0,2177.9" fill="none" stroke="#87cefa" stroke-width="5.0" stroke-linejoin="bevel"/><path d="M0,13.5h26.9 M13.5,26.9V0 M32.1,13.5H58V58H13.5 V32.1" transform="translate(2208.90,1809.20) scale(0.3586)" fill="none" stroke="#a9a8bb" stroke-width="3.90"/><path d="M22,1.4L9.9,13.5l12.3,12.3 M10.3,13.5H54.9v44.6 H10.3v-26" transform="translate(2243.16,1808.69) scale(0.3668)" fill="none" stroke="#a9a8bb" stroke-width="3.82"/><path d="M47,18.9h9.8V8.7 M56.3,20.1 C52.1,9,40.5,0.6,26.8,2.1C12.6,3.7,1.6,16.2,2.1,30.6 M13,41.1H3.1v10.2 M3.7,39.9c4.2,11.1,15.8,19.5,29.5,18 c14.2-1.6,25.2-14.1,24.7-28.5" transform="translate(2279.68,1808.46) scale(0.3708)" fill="none" stroke="#a9a8bb" stroke-width="3.78"/><path d="M4.7,22.9L29.3,45.5L54.7,23.4M4.6,43.6L4.6,58L53.8,58L53.8,43.6M29.2,45.1L29.2,0" transform="translate(2315.92,1809.20) scale(0.3586)" fill="none" stroke="#a9a8bb" stroke-width="3.90"/><path d="M17.5,17.3H33 M17.5,17.3H33 M45.4,29.5h-28 M11.5,2v56H51V14.8L38.4,2H11.5z M38.4,2.2v12.7H51 M45.4,41.7h-28" transform="translate(2350.69,1808.46) scale(0.3714)" fill="none" stroke="#a9a8bb" stroke-width="3.77"/></svg>
<div class="a" style="left:1771.0px;top:1800px;width:40.7px;height:360px;overflow:hidden">
<div class="a t" style="right:12.4px;top:15px;font-size:17.6px;line-height:20px;color:#b9b8ce;transform-origin:100% 50%;transform:scaleX(0.94)">0.00005</div>
<div class="a t" style="right:12.4px;top:98px;font-size:17.6px;line-height:20px;color:#b9b8ce;transform-origin:100% 50%;transform:scaleX(0.94)">0.00004</div>
<div class="a t" style="right:12.4px;top:180px;font-size:17.6px;line-height:20px;color:#b9b8ce;transform-origin:100% 50%;transform:scaleX(0.94)">0.00003</div>
<div class="a t" style="right:12.4px;top:263px;font-size:17.6px;line-height:20px;color:#b9b8ce;transform-origin:100% 50%;transform:scaleX(0.94)">0.00002</div>
<div class="a t" style="right:12.4px;top:346px;font-size:17.6px;line-height:20px;color:#b9b8ce;transform-origin:100% 50%;transform:scaleX(0.94)">0.00001</div>
</div>
<div class="a" style="left:2438.60px;top:1723.00px;width:662.50px;height:520.00px;border-radius:10px;border:1.2px solid #2a2a2e;box-sizing:border-box;"></div>
<div class="a t" style="left:2666.25px;top:1757.00px;font-size:25.00px;line-height:28px;color:#f9f9f9;font-weight:700;transform-origin:0 50%;transform:scaleX(0.9647);">scalar &quot;eval_loss&quot;</div>
<div class="a" style="left:3030.20px;top:1744.00px;width:42.90px;height:43.00px;background:#222328;border-radius:7px;"></div>
<svg style="left:3042.70px;top:1756.50px;" width="18.60" height="18.60" viewBox="0 0 18.6 18.6"><path d="M1.45,5.75 V3.6 Q1.45,1.45 3.6,1.45 H5.75 M12.85,1.45 H15 Q17.15,1.45 17.15,3.6 V5.75 M17.15,12.85 V15 Q17.15,17.15 15,17.15 H12.85 M5.75,17.15 H3.6 Q1.45,17.15 1.45,15 V12.85" fill="none" stroke="#ffa085" stroke-width="2.9" stroke-linecap="round"/></svg>
<svg style="left:0;top:0" width="3840" height="2160" viewBox="0 0 3840 2160"><path d="M2507.40,1826.60H3046.60" stroke="#484753" stroke-width="1.3"/><path d="M2507.40,1878.22H3046.60" stroke="#484753" stroke-width="1.3"/><path d="M2507.40,1929.84H3046.60" stroke="#484753" stroke-width="1.3"/><path d="M2507.40,1981.46H3046.60" stroke="#484753" stroke-width="1.3"/><path d="M2507.40,2033.08H3046.60" stroke="#484753" stroke-width="1.3"/><path d="M2507.40,2084.70H3046.60" stroke="#484753" stroke-width="1.3"/><path d="M2507.40,2136.32H3046.60" stroke="#484753" stroke-width="1.3"/><path d="M2608.40,1826.60V2200" stroke="#484753" stroke-width="1.3"/><path d="M2718.20,1826.60V2200" stroke="#484753" stroke-width="1.3"/><path d="M2828.00,1826.60V2200" stroke="#484753" stroke-width="1.3"/><path d="M2937.80,1826.60V2200" stroke="#484753" stroke-width="1.3"/><path d="M3047.60,1826.60V2200" stroke="#484753" stroke-width="1.3"/><path d="M2507.40,1826.00V2200" stroke="#9a99ae" stroke-width="1.9"/><path d="M2499.60,1826.60H2507.40" stroke="#9a99ae" stroke-width="1.9"/><path d="M2499.60,1878.22H2507.40" stroke="#9a99ae" stroke-width="1.9"/><path d="M2499.60,1929.84H2507.40" stroke="#9a99ae" stroke-width="1.9"/><path d="M2499.60,1981.46H2507.40" stroke="#9a99ae" stroke-width="1.9"/><path d="M2499.60,2033.08H2507.40" stroke="#9a99ae" stroke-width="1.9"/><path d="M2499.60,2084.70H2507.40" stroke="#9a99ae" stroke-width="1.9"/><path d="M2499.60,2136.32H2507.40" stroke="#9a99ae" stroke-width="1.9"/><path d="M2506.4,1862.2 L2514.6,2118.2 L2522.9,2126.6 L2531.0,2133.4 L2539.4,2151.8 L2547.5,2138.6 L2555.9,2147.3 L2564.1,2139.0 L2572.3,2132.8 L2580.5,2136.3 L2588.8,2112.4 L2597.0,2130.1 L2605.2,2131.6 L2613.3,2129.5 L2621.7,2125.2 L2629.9,2144.1 L2638.1,2125.2 L2646.3,2120.6 L2654.4,2130.7 L2662.8,2145.0 L2671.0,2127.5 L2679.3,2143.6 L2687.5,2133.4 L2695.7,2142.4 L2703.9,2128.1 L2712.1,2131.3 L2720.4,2124.4 L2728.6,2134.5 L2736.9,2117.4 L2745.2,2116.8 L2753.4,2142.7 L2761.6,2137.2 L2769.8,2114.9 L2778.1,2107.6 L2786.4,2112.1 L2794.6,2138.4 L2802.9,2113.6 L2811.0,2126.1 L2819.2,2131.3 L2827.5,2132.8 L2835.7,2129.3 L2844.0,2132.8 L2852.2,2131.6 L2860.4,2138.3 L2868.7,2145.4 L2876.8,2127.5 L2885.2,2133.1 L2893.3,2145.9 L2901.6,2129.9 L2909.8,2126.0 L2918.0,2132.8 L2926.3,2129.6 L2934.4,2130.2 L2942.6,2129.9 L2951.0,2134.3 L2959.3,2130.7" fill="none" stroke="#94d3fa" stroke-width="2.5" stroke-linejoin="bevel"/><circle cx="2506.4" cy="1862.2" r="2.7" fill="#94d3fa"/><circle cx="2514.6" cy="2118.2" r="2.7" fill="#94d3fa"/><circle cx="2522.9" cy="2126.6" r="2.7" fill="#94d3fa"/><circle cx="2531.0" cy="2133.4" r="2.7" fill="#94d3fa"/><circle cx="2539.4" cy="2151.8" r="2.7" fill="#94d3fa"/><circle cx="2547.5" cy="2138.6" r="2.7" fill="#94d3fa"/><circle cx="2555.9" cy="2147.3" r="2.7" fill="#94d3fa"/><circle cx="2564.1" cy="2139.0" r="2.7" fill="#94d3fa"/><circle cx="2572.3" cy="2132.8" r="2.7" fill="#94d3fa"/><circle cx="2580.5" cy="2136.3" r="2.7" fill="#94d3fa"/><circle cx="2588.8" cy="2112.4" r="2.7" fill="#94d3fa"/><circle cx="2597.0" cy="2130.1" r="2.7" fill="#94d3fa"/><circle cx="2605.2" cy="2131.6" r="2.7" fill="#94d3fa"/><circle cx="2613.3" cy="2129.5" r="2.7" fill="#94d3fa"/><circle cx="2621.7" cy="2125.2" r="2.7" fill="#94d3fa"/><circle cx="2629.9" cy="2144.1" r="2.7" fill="#94d3fa"/><circle cx="2638.1" cy="2125.2" r="2.7" fill="#94d3fa"/><circle cx="2646.3" cy="2120.6" r="2.7" fill="#94d3fa"/><circle cx="2654.4" cy="2130.7" r="2.7" fill="#94d3fa"/><circle cx="2662.8" cy="2145.0" r="2.7" fill="#94d3fa"/><circle cx="2671.0" cy="2127.5" r="2.7" fill="#94d3fa"/><circle cx="2679.3" cy="2143.6" r="2.7" fill="#94d3fa"/><circle cx="2687.5" cy="2133.4" r="2.7" fill="#94d3fa"/><circle cx="2695.7" cy="2142.4" r="2.7" fill="#94d3fa"/><circle cx="2703.9" cy="2128.1" r="2.7" fill="#94d3fa"/><circle cx="2712.1" cy="2131.3" r="2.7" fill="#94d3fa"/><circle cx="2720.4" cy="2124.4" r="2.7" fill="#94d3fa"/><circle cx="2728.6" cy="2134.5" r="2.7" fill="#94d3fa"/><circle cx="2736.9" cy="2117.4" r="2.7" fill="#94d3fa"/><circle cx="2745.2" cy="2116.8" r="2.7" fill="#94d3fa"/><circle cx="2753.4" cy="2142.7" r="2.7" fill="#94d3fa"/><circle cx="2761.6" cy="2137.2" r="2.7" fill="#94d3fa"/><circle cx="2769.8" cy="2114.9" r="2.7" fill="#94d3fa"/><circle cx="2778.1" cy="2107.6" r="2.7" fill="#94d3fa"/><circle cx="2786.4" cy="2112.1" r="2.7" fill="#94d3fa"/><circle cx="2794.6" cy="2138.4" r="2.7" fill="#94d3fa"/><circle cx="2802.9" cy="2113.6" r="2.7" fill="#94d3fa"/><circle cx="2811.0" cy="2126.1" r="2.7" fill="#94d3fa"/><circle cx="2819.2" cy="2131.3" r="2.7" fill="#94d3fa"/><circle cx="2827.5" cy="2132.8" r="2.7" fill="#94d3fa"/><circle cx="2835.7" cy="2129.3" r="2.7" fill="#94d3fa"/><circle cx="2844.0" cy="2132.8" r="2.7" fill="#94d3fa"/><circle cx="2852.2" cy="2131.6" r="2.7" fill="#94d3fa"/><circle cx="2860.4" cy="2138.3" r="2.7" fill="#94d3fa"/><circle cx="2868.7" cy="2145.4" r="2.7" fill="#94d3fa"/><circle cx="2876.8" cy="2127.5" r="2.7" fill="#94d3fa"/><circle cx="2885.2" cy="2133.1" r="2.7" fill="#94d3fa"/><circle cx="2893.3" cy="2145.9" r="2.7" fill="#94d3fa"/><circle cx="2901.6" cy="2129.9" r="2.7" fill="#94d3fa"/><circle cx="2909.8" cy="2126.0" r="2.7" fill="#94d3fa"/><circle cx="2918.0" cy="2132.8" r="2.7" fill="#94d3fa"/><circle cx="2926.3" cy="2129.6" r="2.7" fill="#94d3fa"/><circle cx="2934.4" cy="2130.2" r="2.7" fill="#94d3fa"/><circle cx="2942.6" cy="2129.9" r="2.7" fill="#94d3fa"/><circle cx="2951.0" cy="2134.3" r="2.7" fill="#94d3fa"/><circle cx="2959.3" cy="2130.7" r="2.7" fill="#94d3fa"/><path d="M0,13.5h26.9 M13.5,26.9V0 M32.1,13.5H58V58H13.5 V32.1" transform="translate(2904.60,1809.20) scale(0.3586)" fill="none" stroke="#a9a8bb" stroke-width="3.90"/><path d="M22,1.4L9.9,13.5l12.3,12.3 M10.3,13.5H54.9v44.6 H10.3v-26" transform="translate(2938.86,1808.69) scale(0.3668)" fill="none" stroke="#a9a8bb" stroke-width="3.82"/><path d="M47,18.9h9.8V8.7 M56.3,20.1 C52.1,9,40.5,0.6,26.8,2.1C12.6,3.7,1.6,16.2,2.1,30.6 M13,41.1H3.1v10.2 M3.7,39.9c4.2,11.1,15.8,19.5,29.5,18 c14.2-1.6,25.2-14.1,24.7-28.5" transform="translate(2975.38,1808.46) scale(0.3708)" fill="none" stroke="#a9a8bb" stroke-width="3.78"/><path d="M4.7,22.9L29.3,45.5L54.7,23.4M4.6,43.6L4.6,58L53.8,58L53.8,43.6M29.2,45.1L29.2,0" transform="translate(3011.62,1809.20) scale(0.3586)" fill="none" stroke="#a9a8bb" stroke-width="3.90"/><path d="M17.5,17.3H33 M17.5,17.3H33 M45.4,29.5h-28 M11.5,2v56H51V14.8L38.4,2H11.5z M38.4,2.2v12.7H51 M45.4,41.7h-28" transform="translate(3046.39,1808.46) scale(0.3714)" fill="none" stroke="#a9a8bb" stroke-width="3.77"/></svg>
<div class="a t" style="left:2472.84px;top:1815.00px;font-size:18.20px;line-height:20px;color:#b9b8ce;font-family:'Liberation Serif',serif;">0.8</div>
<div class="a t" style="left:2472.67px;top:1867.00px;font-size:18.20px;line-height:20px;color:#b9b8ce;font-family:'Liberation Serif',serif;">0.7</div>
<div class="a t" style="left:2472.69px;top:1918.00px;font-size:18.20px;line-height:20px;color:#b9b8ce;font-family:'Liberation Serif',serif;">0.6</div>
<div class="a t" style="left:2472.86px;top:1970.00px;font-size:18.20px;line-height:20px;color:#b9b8ce;font-family:'Liberation Serif',serif;">0.5</div>
<div class="a t" style="left:2472.43px;top:2021.00px;font-size:18.20px;line-height:20px;color:#b9b8ce;font-family:'Liberation Serif',serif;">0.4</div>
<div class="a t" style="left:2472.86px;top:2073.00px;font-size:18.20px;line-height:20px;color:#b9b8ce;font-family:'Liberation Serif',serif;">0.3</div>
<div class="a t" style="left:2473.15px;top:2125.00px;font-size:18.20px;line-height:20px;color:#b9b8ce;font-family:'Liberation Serif',serif;">0.2</div>
<div class="a" style="left:3134.30px;top:1723.00px;width:662.50px;height:520.00px;border-radius:10px;border:1.2px solid #2a2a2e;box-sizing:border-box;"></div>
<div class="a t" style="left:3333.94px;top:1757.00px;font-size:25.00px;line-height:28px;color:#f9f9f9;font-weight:700;transform-origin:0 50%;transform:scaleX(0.9736);">scalar &quot;eval_TrainAcc&quot;</div>
<div class="a" style="left:3725.90px;top:1744.00px;width:42.90px;height:43.00px;background:#222328;border-radius:7px;"></div>
<svg style="left:3738.40px;top:1756.50px;" width="18.60" height="18.60" viewBox="0 0 18.6 18.6"><path d="M1.45,5.75 V3.6 Q1.45,1.45 3.6,1.45 H5.75 M12.85,1.45 H15 Q17.15,1.45 17.15,3.6 V5.75 M17.15,12.85 V15 Q17.15,17.15 15,17.15 H12.85 M5.75,17.15 H3.6 Q1.45,17.15 1.45,15 V12.85" fill="none" stroke="#ffa085" stroke-width="2.9" stroke-linecap="round"/></svg>
<svg style="left:0;top:0" width="3840" height="2160" viewBox="0 0 3840 2160"><path d="M3203.10,1826.60H3742.30" stroke="#484753" stroke-width="1.3"/><path d="M3203.10,1909.25H3742.30" stroke="#484753" stroke-width="1.3"/><path d="M3203.10,1991.90H3742.30" stroke="#484753" stroke-width="1.3"/><path d="M3203.10,2074.55H3742.30" stroke="#484753" stroke-width="1.3"/><path d="M3203.10,2157.20H3742.30" stroke="#484753" stroke-width="1.3"/><path d="M3304.60,1826.60V2200" stroke="#484753" stroke-width="1.3"/><path d="M3414.30,1826.60V2200" stroke="#484753" stroke-width="1.3"/><path d="M3524.00,1826.60V2200" stroke="#484753" stroke-width="1.3"/><path d="M3633.70,1826.60V2200" stroke="#484753" stroke-width="1.3"/><path d="M3743.40,1826.60V2200" stroke="#484753" stroke-width="1.3"/><path d="M3203.10,1826.00V2200" stroke="#9a99ae" stroke-width="1.9"/><path d="M3195.30,1826.60H3203.10" stroke="#9a99ae" stroke-width="1.9"/><path d="M3195.30,1909.25H3203.10" stroke="#9a99ae" stroke-width="1.9"/><path d="M3195.30,1991.90H3203.10" stroke="#9a99ae" stroke-width="1.9"/><path d="M3195.30,2074.55H3203.10" stroke="#9a99ae" stroke-width="1.9"/><path d="M3195.30,2157.20H3203.10" stroke="#9a99ae" stroke-width="1.9"/><path d="M3202.4,1900.5 L3210.5,1846.8 L3218.8,1844.0 L3227.2,1843.4 L3235.3,1837.6 L3243.6,1839.0 L3251.9,1837.5 L3260.1,1838.1 L3268.3,1837.0 L3276.7,1838.2 L3284.8,1839.9 L3293.0,1836.5 L3301.2,1838.4 L3309.5,1836.5 L3317.8,1836.9 L3325.9,1836.3 L3334.3,1837.5 L3342.5,1838.1 L3350.7,1836.1 L3359.0,1834.9 L3367.1,1837.0 L3375.4,1835.5 L3383.6,1835.9 L3391.7,1835.3 L3400.1,1837.0 L3408.3,1834.9 L3416.5,1834.4 L3424.8,1834.7 L3432.9,1835.3 L3441.2,1837.0 L3449.4,1834.7 L3457.7,1834.1 L3466.0,1834.6 L3474.3,1834.9 L3474.1,1834.9 L3482.4,1835.5 L3490.6,1834.6 L3498.8,1834.9 L3507.0,1834.1 L3515.3,1834.5 L3523.5,1833.0 L3531.7,1833.8 L3540.0,1834.4 L3548.2,1833.2 L3556.4,1833.5 L3564.6,1833.0 L3572.8,1833.8 L3581.1,1833.2 L3589.3,1833.5 L3597.5,1833.2 L3605.8,1833.8 L3614.0,1833.4 L3622.2,1833.2 L3630.5,1833.3 L3638.6,1833.8 L3646.9,1833.4 L3655.3,1833.5" fill="none" stroke="#9072d2" stroke-width="2.5" stroke-linejoin="bevel"/><circle cx="3202.4" cy="1900.5" r="2.7" fill="#9072d2"/><circle cx="3210.5" cy="1846.8" r="2.7" fill="#9072d2"/><circle cx="3218.8" cy="1844.0" r="2.7" fill="#9072d2"/><circle cx="3227.2" cy="1843.4" r="2.7" fill="#9072d2"/><circle cx="3235.3" cy="1837.6" r="2.7" fill="#9072d2"/><circle cx="3243.6" cy="1839.0" r="2.7" fill="#9072d2"/><circle cx="3251.9" cy="1837.5" r="2.7" fill="#9072d2"/><circle cx="3260.1" cy="1838.1" r="2.7" fill="#9072d2"/><circle cx="3268.3" cy="1837.0" r="2.7" fill="#9072d2"/><circle cx="3276.7" cy="1838.2" r="2.7" fill="#9072d2"/><circle cx="3284.8" cy="1839.9" r="2.7" fill="#9072d2"/><circle cx="3293.0" cy="1836.5" r="2.7" fill="#9072d2"/><circle cx="3301.2" cy="1838.4" r="2.7" fill="#9072d2"/><circle cx="3309.5" cy="1836.5" r="2.7" fill="#9072d2"/><circle cx="3317.8" cy="1836.9" r="2.7" fill="#9072d2"/><circle cx="3325.9" cy="1836.3" r="2.7" fill="#9072d2"/><circle cx="3334.3" cy="1837.5" r="2.7" fill="#9072d2"/><circle cx="3342.5" cy="1838.1" r="2.7" fill="#9072d2"/><circle cx="3350.7" cy="1836.1" r="2.7" fill="#9072d2"/><circle cx="3359.0" cy="1834.9" r="2.7" fill="#9072d2"/><circle cx="3367.1" cy="1837.0" r="2.7" fill="#9072d2"/><circle cx="3375.4" cy="1835.5" r="2.7" fill="#9072d2"/><circle cx="3383.6" cy="1835.9" r="2.7" fill="#9072d2"/><circle cx="3391.7" cy="1835.3" r="2.7" fill="#9072d2"/><circle cx="3400.1" cy="1837.0" r="2.7" fill="#9072d2"/><circle cx="3408.3" cy="1834.9" r="2.7" fill="#9072d2"/><circle cx="3416.5" cy="1834.4" r="2.7" fill="#9072d2"/><circle cx="3424.8" cy="1834.7" r="2.7" fill="#9072d2"/><circle cx="3432.9" cy="1835.3" r="2.7" fill="#9072d2"/><circle cx="3441.2" cy="1837.0" r="2.7" fill="#9072d2"/><circle cx="3449.4" cy="1834.7" r="2.7" fill="#9072d2"/><circle cx="3457.7" cy="1834.1" r="2.7" fill="#9072d2"/><circle cx="3466.0" cy="1834.6" r="2.7" fill="#9072d2"/><circle cx="3474.3" cy="1834.9" r="2.7" fill="#9072d2"/><circle cx="3474.1" cy="1834.9" r="2.7" fill="#9072d2"/><circle cx="3482.4" cy="1835.5" r="2.7" fill="#9072d2"/><circle cx="3490.6" cy="1834.6" r="2.7" fill="#9072d2"/><circle cx="3498.8" cy="1834.9" r="2.7" fill="#9072d2"/><circle cx="3507.0" cy="1834.1" r="2.7" fill="#9072d2"/><circle cx="3515.3" cy="1834.5" r="2.7" fill="#9072d2"/><circle cx="3523.5" cy="1833.0" r="2.7" fill="#9072d2"/><circle cx="3531.7" cy="1833.8" r="2.7" fill="#9072d2"/><circle cx="3540.0" cy="1834.4" r="2.7" fill="#9072d2"/><circle cx="3548.2" cy="1833.2" r="2.7" fill="#9072d2"/><circle cx="3556.4" cy="1833.5" r="2.7" fill="#9072d2"/><circle cx="3564.6" cy="1833.0" r="2.7" fill="#9072d2"/><circle cx="3572.8" cy="1833.8" r="2.7" fill="#9072d2"/><circle cx="3581.1" cy="1833.2" r="2.7" fill="#9072d2"/><circle cx="3589.3" cy="1833.5" r="2.7" fill="#9072d2"/><circle cx="3597.5" cy="1833.2" r="2.7" fill="#9072d2"/><circle cx="3605.8" cy="1833.8" r="2.7" fill="#9072d2"/><circle cx="3614.0" cy="1833.4" r="2.7" fill="#9072d2"/><circle cx="3622.2" cy="1833.2" r="2.7" fill="#9072d2"/><circle cx="3630.5" cy="1833.3" r="2.7" fill="#9072d2"/><circle cx="3638.6" cy="1833.8" r="2.7" fill="#9072d2"/><circle cx="3646.9" cy="1833.4" r="2.7" fill="#9072d2"/><circle cx="3655.3" cy="1833.5" r="2.7" fill="#9072d2"/><path d="M0,13.5h26.9 M13.5,26.9V0 M32.1,13.5H58V58H13.5 V32.1" transform="translate(3600.30,1809.20) scale(0.3586)" fill="none" stroke="#a9a8bb" stroke-width="3.90"/><path d="M22,1.4L9.9,13.5l12.3,12.3 M10.3,13.5H54.9v44.6 H10.3v-26" transform="translate(3634.56,1808.69) scale(0.3668)" fill="none" stroke="#a9a8bb" stroke-width="3.82"/><path d="M47,18.9h9.8V8.7 M56.3,20.1 C52.1,9,40.5,0.6,26.8,2.1C12.6,3.7,1.6,16.2,2.1,30.6 M13,41.1H3.1v10.2 M3.7,39.9c4.2,11.1,15.8,19.5,29.5,18 c14.2-1.6,25.2-14.1,24.7-28.5" transform="translate(3671.08,1808.46) scale(0.3708)" fill="none" stroke="#a9a8bb" stroke-width="3.78"/><path d="M4.7,22.9L29.3,45.5L54.7,23.4M4.6,43.6L4.6,58L53.8,58L53.8,43.6M29.2,45.1L29.2,0" transform="translate(3707.32,1809.20) scale(0.3586)" fill="none" stroke="#a9a8bb" stroke-width="3.90"/><path d="M17.5,17.3H33 M17.5,17.3H33 M45.4,29.5h-28 M11.5,2v56H51V14.8L38.4,2H11.5z M38.4,2.2v12.7H51 M45.4,41.7h-28" transform="translate(3742.09,1808.46) scale(0.3714)" fill="none" stroke="#a9a8bb" stroke-width="3.77"/></svg>
<div class="a t" style="left:3182.59px;top:1815.00px;font-size:18.20px;line-height:20px;color:#b9b8ce;font-family:'Liberation Serif',serif;">1</div>
<div class="a t" style="left:3168.54px;top:1898.00px;font-size:18.20px;line-height:20px;color:#b9b8ce;font-family:'Liberation Serif',serif;">0.8</div>
<div class="a t" style="left:3168.39px;top:1980.00px;font-size:18.20px;line-height:20px;color:#b9b8ce;font-family:'Liberation Serif',serif;">0.6</div>
<div class="a t" style="left:3168.13px;top:2063.00px;font-size:18.20px;line-height:20px;color:#b9b8ce;font-family:'Liberation Serif',serif;">0.4</div>
<div class="a t" style="left:3168.85px;top:2146.00px;font-size:18.20px;line-height:20px;color:#b9b8ce;font-family:'Liberation Serif',serif;">0.2</div>
</body></html>
